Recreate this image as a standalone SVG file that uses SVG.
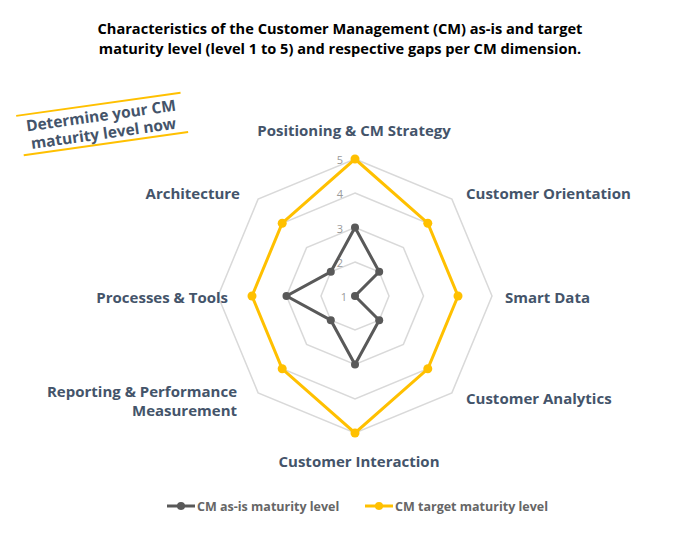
<svg xmlns="http://www.w3.org/2000/svg" width="680" height="540" viewBox="0 0 680 540">
<style>
text{font-family:"Open Sans","Liberation Sans",sans-serif}
.t{font-size:14.6px;font-weight:bold;fill:#000}
.l{font-size:15px;font-weight:bold;fill:#44546A}
.b{font-size:15.5px;font-weight:bold;fill:#44546A}
.n{font-size:11px;fill:#9a9a9a}
.g{fill:none;stroke:#d9d9d9;stroke-width:1.5}
.lg{font-size:12.5px;font-weight:bold;fill:#666}
</style>
<rect width="680" height="540" fill="#fff"/>
<text class="t" x="340" y="34" text-anchor="middle">Characteristics of the Customer Management (CM) as-is and target</text>
<text class="t" x="340" y="54" text-anchor="middle">maturity level (level 1 to 5) and respective gaps per CM dimension.</text>
<g id="banner" transform="rotate(-8 102 123)">
<line x1="18" y1="104" x2="184" y2="104" stroke="#FFC000" stroke-width="2"/>
<line x1="20" y1="144" x2="186" y2="144" stroke="#FFC000" stroke-width="2"/>
<text class="b" x="102" y="121" text-anchor="middle">Determine your CM</text>
<text class="b" x="102" y="139" text-anchor="middle">maturity level now</text>
</g>
<g id="grid">
<polygon class="g" points="355,262 379.2,271.8 389,296 379.2,320.2 355,330 330.8,320.2 321,296 330.8,271.8"/>
<polygon class="g" points="355,227.5 403.4,247.6 423.5,296 403.4,344.4 355,364.5 306.6,344.4 286.5,296 306.6,247.6"/>
<polygon class="g" points="355,193 427.8,223.2 458,296 427.8,368.8 355,399 282.2,368.8 252,296 282.2,223.2"/>
<polygon class="g" points="355,159 451.9,199.1 492,296 451.9,392.9 355,433 258.1,392.9 218,296 258.1,199.1"/>
<text class="n" x="344" y="301" text-anchor="middle">1</text>
<text class="n" x="340" y="267" text-anchor="middle">2</text>
<text class="n" x="340" y="233" text-anchor="middle">3</text>
<text class="n" x="340" y="198" text-anchor="middle">4</text>
<text class="n" x="340" y="164" text-anchor="middle">5</text>
</g>
<g id="series">
<polygon fill="none" stroke="#FFC000" stroke-width="3" points="355,159 427.8,223.2 458,296 427.8,368.8 355,433 282.2,368.8 252,296 282.2,223.2"/>
<g fill="#FFC000"><circle cx="355" cy="159" r="4.5"/><circle cx="427.8" cy="223.2" r="4.5"/><circle cx="458" cy="296" r="4.5"/><circle cx="427.8" cy="368.8" r="4.5"/><circle cx="355" cy="433" r="4.5"/><circle cx="282.2" cy="368.8" r="4.5"/><circle cx="252" cy="296" r="4.5"/><circle cx="282.2" cy="223.2" r="4.5"/></g>
<polygon fill="none" stroke="#595959" stroke-width="3" points="355,227.5 379.2,271.8 355,296 379.2,320.2 355,364.5 330.8,320.2 286.5,296 330.8,271.8"/>
<g fill="#595959"><circle cx="355" cy="227.5" r="4"/><circle cx="379.2" cy="271.8" r="4"/><circle cx="355" cy="296" r="4"/><circle cx="379.2" cy="320.2" r="4"/><circle cx="355" cy="364.5" r="4"/><circle cx="330.8" cy="320.2" r="4"/><circle cx="286.5" cy="296" r="4"/><circle cx="330.8" cy="271.8" r="4"/></g>
</g>
<g id="labels">
<text class="l" x="354" y="136" text-anchor="middle">Positioning &amp; CM Strategy</text>
<text class="l" x="466" y="199">Customer Orientation</text>
<text class="l" x="505" y="303">Smart Data</text>
<text class="l" x="466" y="404">Customer Analytics</text>
<text class="l" x="359" y="467" text-anchor="middle">Customer Interaction</text>
<text class="l" x="237" y="397" text-anchor="end">Reporting &amp; Performance</text>
<text class="l" x="237" y="416" text-anchor="end">Measurement</text>
<text class="l" x="228" y="303" text-anchor="end">Processes &amp; Tools</text>
<text class="l" x="240" y="199" text-anchor="end">Architecture</text>
</g>
<g id="legend">
<line x1="167" y1="506" x2="195" y2="506" stroke="#595959" stroke-width="3"/>
<circle cx="181" cy="506" r="4" fill="#595959"/>
<text class="lg" x="197" y="511">CM as-is maturity level</text>
<line x1="365" y1="506" x2="393" y2="506" stroke="#FFC000" stroke-width="3"/>
<circle cx="379" cy="506" r="4" fill="#FFC000"/>
<text class="lg" x="395" y="511">CM target maturity level</text>
</g>
</svg>
